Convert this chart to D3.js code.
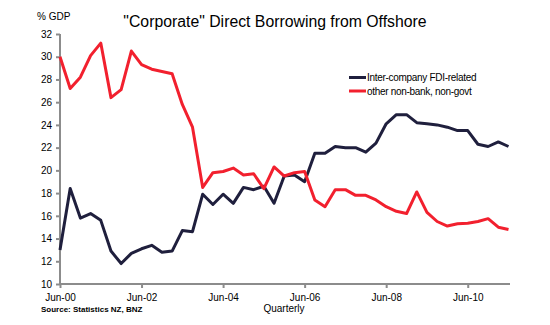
<!DOCTYPE html>
<html><head><meta charset="utf-8">
<script src="https://cdn.jsdelivr.net/npm/d3@7"></script>
<style>body{margin:0;background:#fff}svg{display:block}text{font-family:"Liberation Sans",Arial,sans-serif}</style>
</head><body><svg id="c" width="550" height="325"></svg>
<script>
const quarters = d3.range(45); // Jun-00 .. Jun-11, quarterly index
const tickLabels = ["Jun-00","Jun-02","Jun-04","Jun-06","Jun-08","Jun-10"];
const tickIdx = [0,8,16,24,32,40];
const fdi = [13.0,18.4,15.8,16.2,15.6,12.9,11.8,12.7,13.1,13.4,12.8,12.9,14.7,14.6,17.9,17.0,17.9,17.1,18.5,18.3,18.6,17.1,19.5,19.6,19.0,21.5,21.5,22.1,22.0,22.0,21.6,22.4,24.1,24.9,24.9,24.2,24.1,24.0,23.8,23.5,23.5,22.3,22.1,22.5,22.1];
const other = [30.0,27.2,28.2,30.1,31.2,26.4,27.1,30.5,29.3,28.9,28.7,28.5,25.8,23.8,18.5,19.8,19.9,20.2,19.6,19.7,18.4,20.3,19.5,19.8,19.9,17.4,16.8,18.3,18.3,17.8,17.8,17.4,16.8,16.4,16.2,18.1,16.3,15.5,15.1,15.3,15.35,15.5,15.75,15.0,14.8];
const seriesNames = ["Inter-company FDI-related","other non-bank, non-govt"];
const colors = ["#1f1f3d","#f2202e"];
const yTicks = d3.range(10,33,2);

const svg = d3.select("#c");
const x = d3.scaleLinear().domain([0,44]).range([60,508.5]);
const y = d3.scaleLinear().domain([10,32]).range([284,34]);

const axisCol = "#8c8c8c";
// y axis
const ya = svg.append("g").attr("transform","translate(60,0)")
  .call(d3.axisLeft(y).tickValues(yTicks).tickSize(4).tickPadding(4).tickFormat(d3.format("d")));
ya.select(".domain").attr("stroke",axisCol).attr("stroke-width",2).attr("d","M0,"+y(32)+"V"+y(10));
ya.selectAll(".tick line").attr("stroke",axisCol).attr("stroke-width",2);
ya.selectAll(".tick text").attr("font-size",10).attr("fill","#000").attr("font-family","Liberation Sans, Arial");

// x axis
const xa = svg.append("g").attr("transform","translate(0,"+y(10)+")")
  .call(d3.axisBottom(x).tickValues(tickIdx).tickSize(4).tickPadding(6).tickFormat((d,i)=>tickLabels[i]));
xa.select(".domain").attr("stroke",axisCol).attr("stroke-width",2).attr("d","M59,0H510");
xa.selectAll(".tick line").attr("stroke",axisCol).attr("stroke-width",2);
xa.selectAll(".tick text").attr("font-size",10).attr("fill","#000").attr("font-family","Liberation Sans, Arial");

const line = d3.line().x((d,i)=>x(quarters[i])).y(d=>y(d));
[fdi, other].forEach((s,k)=>{
  svg.append("path").datum(s).attr("d",line).attr("fill","none")
    .attr("stroke",colors[k]).attr("stroke-width",3).attr("stroke-linejoin","round");
});
// Title
svg.append("text").attr("x",275).attr("y",27).attr("text-anchor","middle").attr("font-size",15.8)
  .text('"Corporate"  Direct Borrowing from Offshore');
svg.append("text").attr("x",37).attr("y",20).attr("font-size",10).text("% GDP");
svg.append("text").attr("x",41).attr("y",312).attr("font-size",8).attr("font-weight","bold").text("Source: Statistics NZ, BNZ");
svg.append("text").attr("x",284).attr("y",312).attr("text-anchor","middle").attr("font-size",10).text("Quarterly");

// legend
seriesNames.forEach((n,k)=>{
  const ly = 77.5 + k*13.5;
  svg.append("line").attr("x1",349).attr("x2",366).attr("y1",ly).attr("y2",ly)
    .attr("stroke",colors[k]).attr("stroke-width",3);
  svg.append("text").attr("x",367).attr("y",ly+3.5).attr("font-size",10).attr("letter-spacing","-0.3")
    .text(n);
});
</script></body></html>
